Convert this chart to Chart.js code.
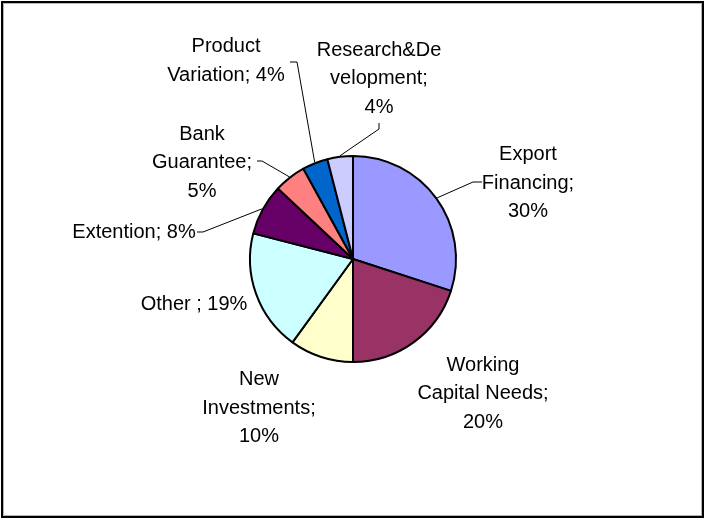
<!DOCTYPE html>
<html>
<head>
<meta charset="utf-8">
<script src="https://cdn.jsdelivr.net/npm/chart.js@4/dist/chart.umd.min.js"></script>
<style>
  html, body { margin: 0; padding: 0; background: #ffffff; }
  #wrap { width: 704px; height: 518px; }
</style>
</head>
<body>
<div id="wrap"><canvas id="c" width="704" height="518"></canvas></div>
<script>
// Funding purposes and their shares (percent)
const categories = [
  "Export Financing",
  "Working Capital Needs",
  "New Investments",
  "Other ",
  "Extention",
  "Bank Guarantee",
  "Product Variation",
  "Research&Development"
];
const shares = [30, 20, 10, 19, 8, 5, 4, 4];
const sliceColors = ["#9999FF", "#993366", "#FFFFCC", "#CCFFFF", "#660066", "#FF8080", "#0066CC", "#CCCCFF"];

// Label placement relative to the pie centre: block centre, wrap width,
// and optional leader bend / end points.
const labelLayout = [
  { dx: 175,  dy: -77.5, wrap: 110, leader: [[120, -77], [129, -77]] },
  { dx: 130,  dy: 133,   wrap: 136, leader: null },
  { dx: -94,  dy: 147.5, wrap: 118, leader: null },
  { dx: -159, dy: 44,    wrap: 300, leader: null },
  { dx: -219, dy: -28,   wrap: 300, leader: [[-150, -27], [-156, -27]] },
  { dx: -151, dy: -98,   wrap: 110, leader: [[-91, -98], [-96, -98]] },
  { dx: -127, dy: -200,  wrap: 125, leader: [[-56, -197], [-63, -197]] },
  { dx: 26,   dy: -182,  wrap: 128, leader: [[26, -130], [26, -136]] }
];

const FONT = '20px "Liberation Sans", Arial, Helvetica, sans-serif';
const LINE_H = 28.6;

function wrapText(ctx, text, maxW) {
  const words = text.split(' ').filter(w => w.length);
  const lines = [];
  let cur = '';
  const pushWord = (w) => {
    const trial = cur ? cur + ' ' + w : w;
    if (ctx.measureText(trial).width <= maxW) { cur = trial; return; }
    if (cur) { lines.push(cur); cur = ''; }
    if (ctx.measureText(w).width <= maxW) { cur = w; return; }
    // break an over-long word character by character
    let piece = '';
    for (const ch of w) {
      if (ctx.measureText(piece + ch).width > maxW && piece) { lines.push(piece); piece = ch; }
      else piece += ch;
    }
    cur = piece;
  };
  words.forEach(pushWord);
  if (cur) lines.push(cur);
  return lines;
}

const framePlugin = {
  id: 'frame',
  beforeDraw(chart) {
    const ctx = chart.ctx;
    ctx.save();
    ctx.fillStyle = '#ffffff';
    ctx.fillRect(0, 0, chart.width, chart.height);
    ctx.restore();
  },
  afterDraw(chart) {
    const ctx = chart.ctx;
    ctx.save();
    ctx.strokeStyle = '#000000';
    ctx.lineWidth = 2;
    ctx.strokeRect(2, 2, 701, 515);
    ctx.strokeStyle = '#b4b4b4';
    ctx.lineWidth = 1;
    ctx.strokeRect(3.5, 3.5, 698, 512);
    ctx.restore();
  }
};

const sliceLabelPlugin = {
  id: 'sliceLabels',
  afterDatasetsDraw(chart) {
    const ctx = chart.ctx;
    const arcs = chart.getDatasetMeta(0).data;
    const values = chart.data.datasets[0].data;
    ctx.save();
    ctx.font = FONT;
    ctx.fillStyle = '#000000';
    ctx.strokeStyle = '#000000';
    ctx.lineWidth = 1;
    arcs.forEach((arc, i) => {
      const lay = labelLayout[i];
      const cx = arc.x, cy = arc.y;
      if (lay.leader) {
        const mid = (arc.startAngle + arc.endAngle) / 2;
        const r = arc.outerRadius + 1;
        ctx.beginPath();
        ctx.moveTo(cx + Math.cos(mid) * r, cy + Math.sin(mid) * r);
        lay.leader.forEach(p => ctx.lineTo(cx + p[0], cy + p[1]));
        ctx.stroke();
      }
      const text = chart.data.labels[i] + '; ' + values[i] + '%';
      const lines = wrapText(ctx, text, lay.wrap);
      ctx.textAlign = 'center';
      ctx.textBaseline = 'alphabetic';
      const bx = cx + lay.dx, by = cy + lay.dy;
      lines.forEach((ln, k) => {
        const mid = by + (k - (lines.length - 1) / 2) * LINE_H;
        ctx.fillText(ln, bx, mid + 7.2);
      });
    });
    ctx.restore();
  }
};

new Chart(document.getElementById('c'), {
  type: 'pie',
  data: {
    labels: categories,
    datasets: [{
      data: shares,
      backgroundColor: sliceColors,
      borderColor: '#000000',
      borderWidth: 2
    }]
  },
  options: {
    responsive: false,
    animation: false,
    events: [],
    radius: 103,
    layout: { padding: { left: 2, right: 0, top: 0, bottom: 0 } },
    plugins: {
      legend: { display: false },
      tooltip: { enabled: false },
      title: { display: false }
    }
  },
  plugins: [framePlugin, sliceLabelPlugin]
});
</script>
</body>
</html>
